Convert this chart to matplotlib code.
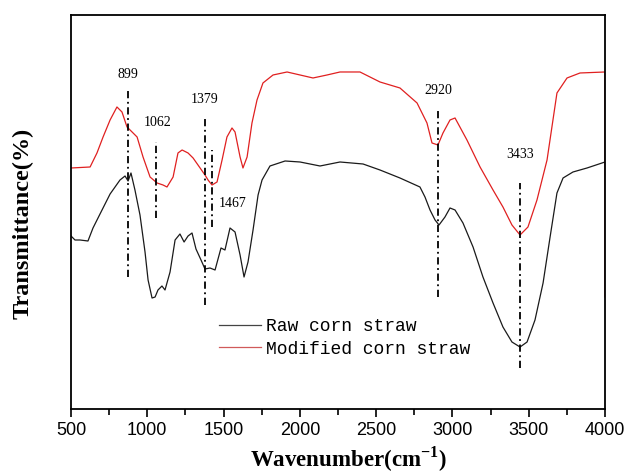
import matplotlib
matplotlib.use("Agg")
import matplotlib.pyplot as plt

# FTIR spectra (wavenumber, transmittance in arbitrary units)
raw_wn = [500, 526, 559, 611, 644, 690, 756, 821, 854, 874, 893, 919, 952, 985,
          1005, 1031, 1051, 1070, 1096, 1116, 1149, 1182, 1214, 1241, 1267, 1293,
          1319, 1352, 1378, 1411, 1444, 1483, 1509, 1542, 1575, 1608, 1634, 1660,
          1693, 1726, 1752, 1804, 1903, 2001, 2132, 2263, 2414, 2525, 2656, 2787,
          2820, 2853, 2886, 2912, 2951, 2984, 3017, 3069, 3135, 3200, 3266, 3331,
          3390, 3443, 3489, 3541, 3594, 3640, 3685, 3725, 3790, 3882, 4000]
raw_t = [173, 169, 169, 168, 181, 195, 215, 229, 233, 228, 236, 219, 194, 157,
         129, 111, 112, 119, 123, 119, 137, 169, 175, 167, 173, 176,
         160, 149, 140, 141, 139, 161, 159, 181, 177, 154, 132, 147,
         179, 214, 229, 243, 248, 247, 243, 247, 245, 239, 231, 222,
         212, 199, 189, 184, 192, 201, 199, 186, 162, 132, 106, 82,
         67, 62, 67, 89, 126, 172, 216, 231, 237, 241, 247]

mod_wn = [500, 625, 670, 710, 756, 801, 834, 867, 887, 933, 972, 1018, 1064, 1103,
          1129, 1169, 1201, 1228, 1267, 1300, 1346, 1378, 1398, 1424, 1457, 1490,
          1522, 1555, 1575, 1608, 1627, 1654, 1686, 1719, 1758, 1824, 1916, 2001,
          2086, 2178, 2263, 2394, 2525, 2656, 2768, 2833, 2866, 2905, 2938, 2984,
          3017, 3095, 3181, 3266, 3331, 3390, 3443, 3495, 3554, 3620, 3685, 3751,
          3836, 4000, 4000]
mod_t = [241, 242, 256, 272, 289, 302, 297, 282, 279, 272, 252, 232, 226, 224,
         222, 232, 256, 259, 256, 251, 241, 234, 229, 224, 227, 249,
         272, 281, 277, 252, 241, 252, 286, 309, 326, 334, 337, 334,
         331, 334, 337, 337, 327, 321, 306, 286, 266, 264, 276, 289,
         291, 269, 242, 219, 202, 184, 174, 182, 209, 249, 316, 331,
         336, 337, 112]

# peak markers: label, line position, line span, label position
peak_labels = ["899", "1062", "1379", "1467", "2920", "3433"]
peak_x = [874, 1057, 1378, 1424, 2905, 3443]
peak_lo = [132, 191, 104, 182, 112, 41]
peak_hi = [319, 267, 291, 259, 299, 226]
label_x = [874, 1070, 1378, 1562, 2905, 3443]
label_y = [334, 286, 309, 205, 318, 254]

fig = plt.figure(figsize=(6.28, 4.74), dpi=100)
ax = fig.add_axes([0.1131, 0.1371, 0.8503, 0.8313])

ax.plot(raw_wn, raw_t, color="#1a1a1a", lw=0.9, label="Raw corn straw")
ax.plot(mod_wn, mod_t, color="#e02020", lw=0.9, label="Modified corn straw")

for x, lo, hi in zip(peak_x, peak_lo, peak_hi):
    ax.plot([x, x], [lo, hi], color="black", lw=1.3,
            linestyle=(0, (4, 2, 1, 2)))
for s, x, y in zip(peak_labels, label_x, label_y):
    ax.text(x, y, s, ha="center", va="center", fontsize=10,
            family="Liberation Serif")

ax.set_xlim(500, 4000)
ax.set_ylim(0, 394)
ax.set_xticks(range(500, 4001, 500))
ax.set_xticks(range(750, 4000, 500), minor=True)
ax.set_yticks([])
ax.tick_params(axis="x", which="major", direction="out", length=6, width=1.2,
               labelsize=13, pad=3)
ax.tick_params(axis="x", which="minor", direction="out", length=4, width=1.2)
for lab in ax.get_xticklabels():
    lab.set_family("Liberation Sans")
for sp in ax.spines.values():
    sp.set_linewidth(1.3)

ax.set_xlabel("Wavenumber(cm$^{\\mathregular{-1}}$)", fontsize=16.5,
              fontweight="bold", family="Liberation Serif", va="center")
ax.xaxis.set_label_coords(0.519, -0.127)
ax.set_ylabel("Transmittance(%)", fontsize=17.5, fontweight="bold",
              family="Liberation Serif", va="center")
ax.yaxis.set_label_coords(-0.0899, 0.47)

leg = ax.legend(loc="center left", bbox_to_anchor=(0.278, 0.18), frameon=False,
                prop={"family": "Liberation Mono", "size": 13},
                handlelength=2.3, handletextpad=0.28, labelspacing=0.3,
                borderaxespad=0, borderpad=0)
leg.legend_handles[0].set_color("#444444")
leg.legend_handles[1].set_color("#d05a5a")

fig.savefig("out.png", dpi=100)
